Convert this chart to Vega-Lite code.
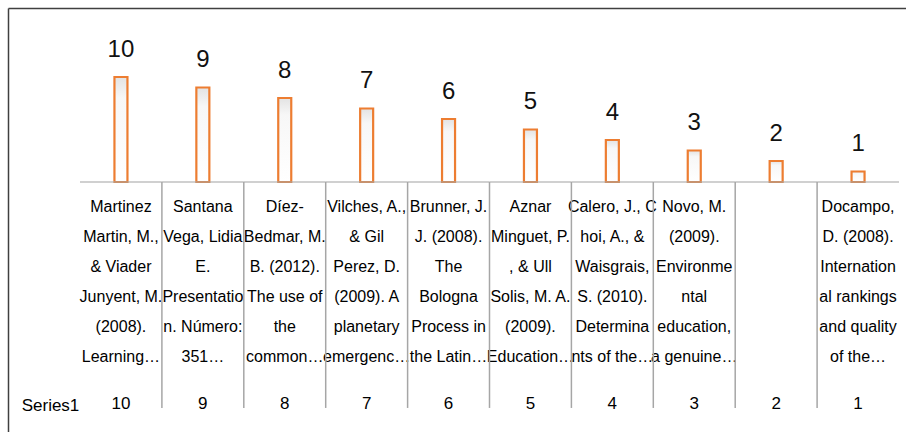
{
  "$schema": "https://vega.github.io/schema/vega-lite/v6.json",
  "autosize": "none",
  "padding": {"left": 8, "top": 8, "right": 0, "bottom": 0},
  "width": 898,
  "height": 424,
  "background": "white",
  "config": {
    "view": {"stroke": null},
    "tick": {"bandSize": 1},
    "font": "Liberation Sans"
  },
  "data": {
    "values": [
      {"ref": "Martinez|Martin, M.,|& Viader|Junyent, M.|(2008).|Learning…", "value": 10},
      {"ref": "Santana|Vega, Lidia|E.|Presentatio|n. Número:|351…", "value": 9},
      {"ref": "Díez-|Bedmar, M.|B. (2012).|The use of|the|common…", "value": 8},
      {"ref": "Vilches, A.,|& Gil|Perez, D.|(2009). A|planetary|emergenc…", "value": 7},
      {"ref": "Brunner, J.|J. (2008).|The|Bologna|Process in|the Latin…", "value": 6},
      {"ref": "Aznar|Minguet, P.|, & Ull|Solis, M. A.|(2009).|Education…", "value": 5},
      {"ref": "Calero, J., C|hoi, A., &|Waisgrais,|S. (2010).|Determina|nts of the…", "value": 4},
      {"ref": "Novo, M.|(2009).|Environme|ntal|education,|a genuine…", "value": 3},
      {"ref": " ", "value": 2},
      {"ref": "Docampo,|D. (2008).|Internation|al rankings|and quality|of the…", "value": 1}
    ]
  },
  "resolve": {"axis": {"x": "independent", "y": "independent"}},
  "layer": [
    {
      "mark": {
        "type": "bar",
        "size": 13,
        "stroke": "#ED7D31",
        "strokeWidth": 2.2,
        "fill": {
          "x1": 0, "y1": 0, "x2": 0, "y2": 1,
          "gradient": "linear",
          "stops": [
            {"offset": 0, "color": "#e3e3e3"},
            {"offset": 0.2, "color": "#f7f7f7"},
            {"offset": 1, "color": "#ffffff"}
          ]
        }
      },
      "encoding": {
        "x": {
          "field": "ref", "type": "nominal", "sort": null,
          "scale": {"paddingInner": 0, "paddingOuter": 0.4823, "align": 0.9114},
          "axis": {
            "orient": "bottom",
            "offset": -250,
            "title": null,
            "domain": false,
            "ticks": false,
            "labelAngle": 0,
            "labelExpr": "split(datum.label, '|')",
            "labelFont": "Liberation Sans",
            "labelFontSize": 16,
            "labelLineHeight": 30,
            "labelColor": "#000000",
            "labelPadding": 16,
            "labelBaseline": "top",
            "labelAlign": "center",
            "labelLimit": 0,
            "labelOverlap": false
          }
        },
        "y": {
          "field": "value", "type": "quantitative",
          "scale": {"domain": [-23.81, 16.571], "nice": false, "zero": false},
          "axis": {
            "orient": "left",
            "domain": true,
            "domainColor": "#404040",
            "domainWidth": 1.5,
            "ticks": false,
            "labels": false,
            "grid": false,
            "title": "Series1",
            "titleAngle": 0,
            "titleX": 42,
            "titleY": 402,
            "titleAlign": "center",
            "titleBaseline": "alphabetic",
            "titleFont": "Liberation Sans",
            "titleFontSize": 17,
            "titleFontWeight": "normal",
            "titleColor": "#000000"
          }
        }
      }
    },
    {
      "mark": {
        "type": "text",
        "baseline": "alphabetic",
        "dy": -20,
        "fontSize": 24,
        "color": "#111111",
        "font": "Liberation Sans"
      },
      "encoding": {
        "x": {"field": "ref", "type": "nominal", "sort": null, "axis": null},
        "y": {"field": "value", "type": "quantitative", "axis": null},
        "text": {"field": "value", "type": "quantitative"}
      }
    },
    {
      "mark": {"type": "tick", "color": "#A6A6A6", "thickness": 1.5},
      "encoding": {
        "x": {
          "field": "ref", "type": "nominal", "sort": null,
          "axis": {
            "orient": "top",
            "domain": true,
            "domainColor": "#404040",
            "domainWidth": 1.5,
            "ticks": false,
            "labels": false,
            "title": null
          }
        },
        "y": {"datum": 0, "axis": null}
      }
    },
    {
      "transform": [{"filter": "datum.value < 10"}],
      "mark": {"type": "rule", "color": "#A6A6A6", "strokeWidth": 1.5},
      "encoding": {
        "x": {"field": "ref", "type": "nominal", "sort": null, "bandPosition": 0, "axis": null},
        "y": {"datum": 0, "axis": null},
        "y2": {"datum": -21.52}
      }
    },
    {
      "mark": {
        "type": "text",
        "baseline": "alphabetic",
        "fontSize": 17,
        "color": "#000000",
        "font": "Liberation Sans"
      },
      "encoding": {
        "x": {"field": "ref", "type": "nominal", "sort": null, "axis": null},
        "y": {"datum": -21.6, "axis": null},
        "text": {"field": "value", "type": "quantitative"}
      }
    }
  ]
}
